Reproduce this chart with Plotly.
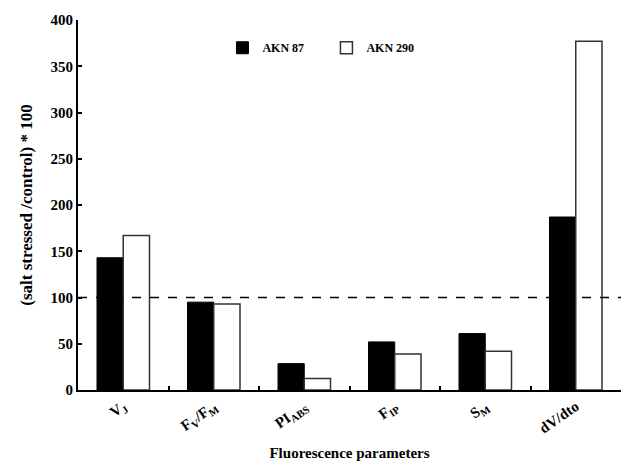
import plotly.graph_objects as go

categories = ["V<sub>J</sub>", "F<sub>V</sub>/F<sub>M</sub>", "PI<sub>ABS</sub>",
              "F<sub>IP</sub>", "S<sub>M</sub>", "dV/dto"]
akn87 = [143, 95, 28.5, 52, 61, 187]
akn290 = [167, 93, 12.5, 39, 42, 377]
reference_level = 100
y_ticks = [0, 50, 100, 150, 200, 250, 300, 350, 400]

FONT = "Liberation Serif"

fig = go.Figure()
fig.add_trace(go.Bar(x=categories, y=akn87, name="<b>AKN 87</b>",
                     marker=dict(color="black", line=dict(color="black", width=1))))
fig.add_trace(go.Bar(x=categories, y=akn290, name="<b>AKN 290</b>",
                     marker=dict(color="white", line=dict(color="#333333", width=1.5))))

fig.add_shape(type="line", xref="paper", yref="y", x0=0, x1=1,
              y0=reference_level, y1=reference_level,
              line=dict(color="black", width=1.3, dash="dash"))

fig.update_layout(
    width=622, height=465,
    margin=dict(l=78, r=1, t=20, b=75),
    paper_bgcolor="white", plot_bgcolor="white",
    barmode="group", bargap=0.42, bargroupgap=0,
    font=dict(family=FONT, color="black", size=14),
    showlegend=True,
    legend=dict(orientation="h", x=0.266, y=0.925, xanchor="left", yanchor="middle",
                font=dict(family=FONT, size=12, color="black"),
                bgcolor="rgba(0,0,0,0)", itemwidth=30, tracegroupgap=0,
                entrywidth=59, entrywidthmode="pixels"),
    xaxis=dict(
        type="category",
        showline=True, linecolor="black", linewidth=2,
        ticks="inside", tickson="boundaries", ticklen=4, tickwidth=2, tickcolor="black",
        tickmode="array", tickvals=categories, ticktext=["<b>%s</b>" % c for c in categories],
        tickangle=-35,
        tickfont=dict(family=FONT, size=15, color="black"),
        title=dict(text="<b>Fluorescence parameters</b>", font=dict(family=FONT, size=15),
                   standoff=12),
        showgrid=False,
    ),
    yaxis=dict(
        range=[0, 400],
        tickmode="array", tickvals=y_ticks, ticktext=["<b>%d</b>" % v for v in y_ticks],
        showline=True, linecolor="black", linewidth=2,
        ticks="inside", ticklen=4, tickwidth=2, tickcolor="black",
        tickfont=dict(family=FONT, size=15, color="black"),
        title=dict(text="<b>(salt stressed /control) * 100</b>", font=dict(family=FONT, size=17),
                   standoff=14),
        showgrid=False, zeroline=False,
    ),
)

fig.write_html("out.html")
